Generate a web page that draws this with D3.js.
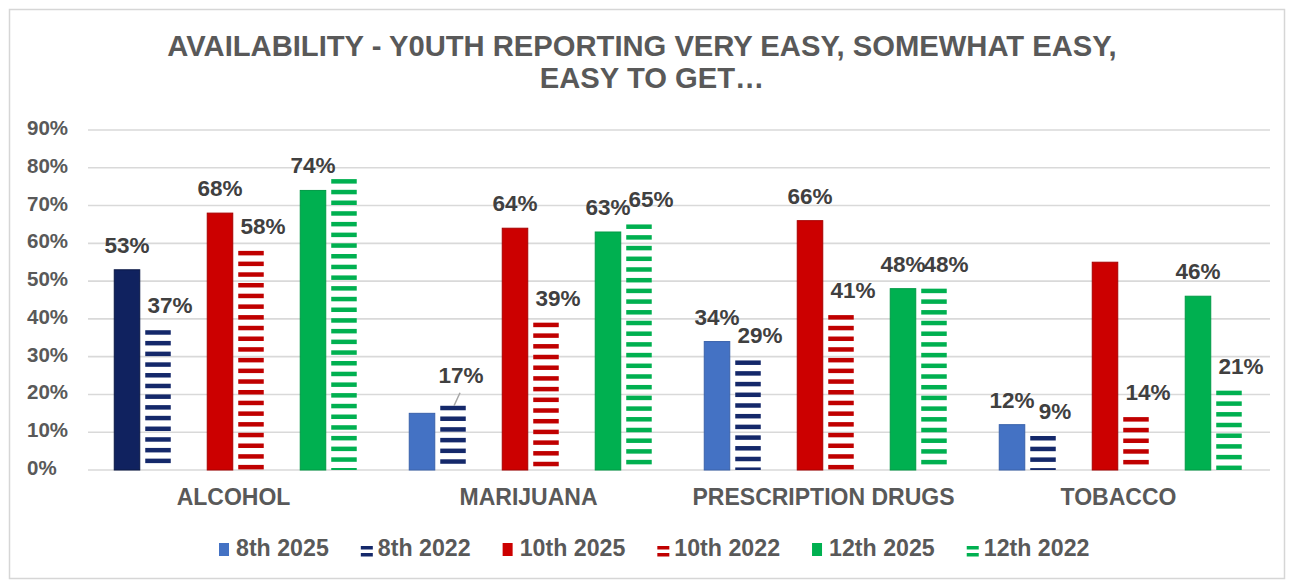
<!DOCTYPE html>
<html>
<head>
<meta charset="utf-8">
<script src="https://cdn.jsdelivr.net/npm/d3@7"></script>
<style>
  html, body { margin: 0; padding: 0; background: #ffffff; }
  svg { display: block; font-family: "Liberation Sans", Arial, sans-serif; }
</style>
</head>
<body>
<svg id="chart" width="1295" height="584"></svg>
<script>
// Substances on the x axis
const categories = ["ALCOHOL", "MARIJUANA", "PRESCRIPTION DRUGS", "TOBACCO"];

// Percent of youth reporting the substance is easy to get, by grade and survey year
const grade8_2025  = [53, 15, 34, 12];
const grade8_2022  = [37, 17, 29, 9];
const grade10_2025 = [68, 64, 66, 55];
const grade10_2022 = [58, 39, 41, 14];
const grade12_2025 = [74, 63, 48, 46];
const grade12_2022 = [77, 65, 48, 21];

const seriesNames = ["8th 2025", "8th 2022", "10th 2025", "10th 2022", "12th 2025", "12th 2022"];

// Bars whose value label is not printed
const unlabeled = [["12th 2022", "ALCOHOL"], ["8th 2025", "MARIJUANA"], ["10th 2025", "TOBACCO"]];

// Y axis ticks
const yTicks = [0, 10, 20, 30, 40, 50, 60, 70, 80, 90];
const yTickLabels = ["0%", "10%", "20%", "30%", "40%", "50%", "60%", "70%", "80%", "90%"];

const titleLines = ["AVAILABILITY - Y0UTH REPORTING VERY EASY, SOMEWHAT EASY,", "EASY TO GET\u2026"];

// ---- styling ----
const series = [
  { name: seriesNames[0], values: grade8_2025,  slot: 0, striped: false, color: "#4472c4", edge: "#3a62ab" },
  { name: seriesNames[1], values: grade8_2022,  slot: 1, striped: true,  color: "#14286a" },
  { name: seriesNames[2], values: grade10_2025, slot: 3, striped: false, color: "#cc0000", edge: "#a80000" },
  { name: seriesNames[3], values: grade10_2022, slot: 4, striped: true,  color: "#c00000" },
  { name: seriesNames[4], values: grade12_2025, slot: 6, striped: false, color: "#00b050", edge: "#009a45" },
  { name: seriesNames[5], values: grade12_2022, slot: 7, striped: true,  color: "#00b050" }
];
// The alcohol 8th-grade 2025 bar is drawn in navy
const fillOverride = { "8th 2025|ALCOHOL": { color: "#10225f", edge: "#0a1845" } };

const textGray = "#595959";
const labelGray = "#404040";
const gridGray = "#d9d9d9";

const svg = d3.select("#chart");

// outer frame
svg.append("rect")
  .attr("x", 9.5).attr("y", 9.5).attr("width", 1275).attr("height", 569)
  .attr("fill", "#ffffff").attr("stroke", "#d6d6d6").attr("stroke-width", 1.5);

// ---- scales ----
const plotLeft = 88, plotRight = 1268, plotTop = 130, plotBottom = 470;
const x0 = d3.scaleBand().domain(categories).range([plotLeft, plotRight]).padding(0);
const x1 = d3.scaleBand().domain(d3.range(8)).range([0, x0.bandwidth()])
  .paddingInner(0.177).paddingOuter(0.847);
const y = d3.scaleLinear().domain([0, 90]).range([plotBottom, plotTop]);

// ---- gridlines ----
svg.append("g").selectAll("line").data(yTicks).join("line")
  .attr("x1", plotLeft).attr("x2", plotRight + 2)
  .attr("y1", d => y(d)).attr("y2", d => y(d))
  .attr("stroke", gridGray).attr("stroke-width", 1.6);

// ---- y axis labels ----
svg.append("g").selectAll("text").data(yTicks).join("text")
  .attr("x", 27).attr("y", d => y(d) + 5)
  .attr("fill", textGray).attr("font-size", 20.5).attr("font-weight", "bold")
  .text((d, i) => yTickLabels[i]);

// ---- bars ----
const bars = [];
series.forEach(s => {
  categories.forEach((c, i) => {
    bars.push({ s, c, v: s.values[i] });
  });
});

const barW = x1.bandwidth();
const stripePeriod = 10.7, stripeThick = 4.5;

const gBars = svg.append("g");
bars.forEach(b => {
  const bx = x0(b.c) + x1(b.s.slot);
  const top = y(b.v), bottom = y(0);
  if (!b.s.striped) {
    const ov = fillOverride[b.s.name + "|" + b.c];
    gBars.append("rect")
      .attr("x", bx).attr("y", top).attr("width", barW).attr("height", bottom - top)
      .attr("fill", ov ? ov.color : b.s.color)
      .attr("stroke", ov ? ov.edge : b.s.edge).attr("stroke-width", 1);
  } else {
    const starts = d3.range(top, bottom - 1.5, stripePeriod);
    gBars.append("g").selectAll("rect").data(starts).join("rect")
      .attr("x", bx).attr("y", d => d).attr("width", barW)
      .attr("height", d => Math.min(stripeThick, bottom - d))
      .attr("fill", b.s.color);
  }
});

// ---- value labels ----
const isUnlabeled = b => unlabeled.some(([sn, c]) => sn === b.s.name && c === b.c);
const gLabels = svg.append("g");
bars.filter(b => !isUnlabeled(b)).forEach(b => {
  const cx = x0(b.c) + x1(b.s.slot) + barW / 2;
  const dx = b.s.striped ? 12 : 0;
  const leader = b.s.name === "8th 2022" && b.c === "MARIJUANA";
  const by = y(b.v) - (leader ? 23 : 17);
  gLabels.append("text")
    .attr("x", cx + dx + (leader ? -4 : 0)).attr("y", by)
    .attr("text-anchor", "middle")
    .attr("fill", labelGray).attr("font-size", 22.5).attr("font-weight", "bold")
    .text(b.v + "%");
  if (leader) {
    gLabels.append("line")
      .attr("x1", cx + 7).attr("y1", by + 10)
      .attr("x2", cx + 1).attr("y2", y(b.v))
      .attr("stroke", "#a6a6a6").attr("stroke-width", 1.5);
  }
});

// ---- category labels ----
svg.append("g").selectAll("text").data(categories).join("text")
  .attr("x", d => x0(d) + x0.bandwidth() / 2 - 2).attr("y", 505)
  .attr("text-anchor", "middle")
  .attr("fill", textGray).attr("font-size", 23).attr("font-weight", "bold")
  .text(d => d);

// ---- title ----
svg.append("g").selectAll("text").data(titleLines).join("text")
  .attr("x", (d, i) => i === 0 ? 642 : 652)
  .attr("y", (d, i) => 56 + i * 32)
  .attr("text-anchor", "middle")
  .attr("fill", textGray).attr("font-size", 29.2).attr("font-weight", "bold")
  .text(d => d);

// ---- legend ----
const legend = svg.append("g");
let lx = 219;
const legendY = 556;
series.forEach(s => {
  const g = legend.append("g");
  if (!s.striped) {
    g.append("rect").attr("x", lx).attr("y", legendY - 13).attr("width", 10).attr("height", 13)
      .attr("fill", s.color);
  } else {
    [legendY - 10, legendY - 3].forEach(sy => {
      g.append("rect").attr("x", lx).attr("y", sy).attr("width", 12).attr("height", 3.5)
        .attr("fill", s.color);
    });
  }
  const t = g.append("text").attr("x", lx + 17).attr("y", legendY)
    .attr("fill", textGray).attr("font-size", 23.2).attr("font-weight", "bold")
    .text(s.name);
  lx += 17 + t.node().getComputedTextLength() + 32;
});
</script>
</body>
</html>
